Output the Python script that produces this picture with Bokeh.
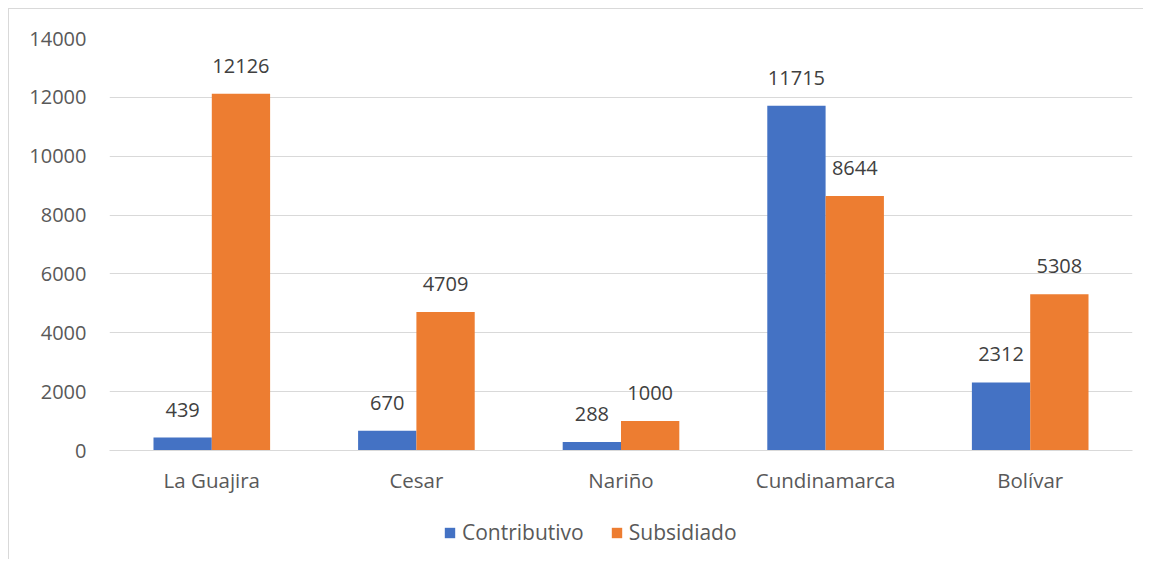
from bokeh.plotting import figure
from bokeh.layouts import column
from bokeh.models import ColumnDataSource, FactorRange, Legend, LegendItem, Range1d, SingleIntervalTicker
from bokeh.transform import dodge
from bokeh.embed import file_html
from bokeh.resources import INLINE
from bokeh.core.properties import value

categories = ["La Guajira", "Cesar", "Nariño", "Cundinamarca", "Bolívar"]
contributivo = [439, 670, 288, 11715, 2312]
subsidiado = [12126, 4709, 1000, 8644, 5308]
series_names = ["Contributivo", "Subsidiado"]
colors = ["#4472C4", "#ED7D31"]

FONT = "Open Sans"

src = ColumnDataSource(dict(
    cat=categories,
    c=contributivo,
    s=subsidiado,
    cl=[str(v) for v in contributivo],
    sl=[str(v) for v in subsidiado],
))

p = figure(
    x_range=FactorRange(*categories, range_padding=0),
    y_range=Range1d(0, 14000),
    width=1143, height=500,
    output_backend="svg", toolbar_location=None,
    min_border_left=109, min_border_right=11,
    min_border_top=38, min_border_bottom=50,
)
p.outline_line_color = None
p.background_fill_color = None
p.border_fill_color = None

bw = 0.285
r1 = p.vbar(x=dodge("cat", -bw / 2, range=p.x_range), top="c", width=bw, source=src,
            fill_color=colors[0], line_color=None)
r2 = p.vbar(x=dodge("cat", bw / 2, range=p.x_range), top="s", width=bw, source=src,
            fill_color=colors[1], line_color=None)

for col, lab, off in (("c", "cl", -bw / 2), ("s", "sl", bw / 2)):
    p.text(x=dodge("cat", off, range=p.x_range), y=col, text=lab, source=src,
           text_align="center", text_baseline="alphabetic", y_offset=-28,
           text_font=value(FONT), text_font_size="20px", text_color="#404040")

p.yaxis.ticker = SingleIntervalTicker(interval=2000)
p.yaxis.axis_line_color = None
p.yaxis.major_tick_line_color = None
p.yaxis.minor_tick_line_color = None
p.yaxis.major_label_standoff = 17
p.yaxis.major_label_text_font = FONT
p.yaxis.major_label_text_font_size = "20px"
p.yaxis.major_label_text_color = "#595959"

p.xaxis.axis_line_color = "#D9D9D9"
p.xaxis.axis_line_width = 1
p.xaxis.major_tick_line_color = None
p.xaxis.minor_tick_line_color = None
p.xaxis.major_label_standoff = 9
p.xaxis.major_label_text_font = FONT
p.xaxis.major_label_text_font_size = "20.5px"
p.xaxis.major_label_text_color = "#595959"

p.xgrid.grid_line_color = None
p.ygrid.grid_line_color = "#D9D9D9"
p.ygrid.grid_line_width = 1

# legend strip below the chart (its frame is aligned with the chart's frame)
lp = figure(
    x_range=Range1d(0, 1), y_range=Range1d(0, 1),
    width=1143, height=59,
    output_backend="svg", toolbar_location=None,
    min_border_left=0, min_border_right=0, min_border_top=0, min_border_bottom=0,
)
lp.axis.visible = False
lp.grid.visible = False
lp.outline_line_color = None
lp.background_fill_color = None
lp.border_fill_color = None
offscreen = ColumnDataSource(dict(x=[-100], top=[-100], bottom=[-101]))
l1 = lp.vbar(x="x", top="top", bottom="bottom", width=0.1, source=offscreen,
             fill_color=colors[0], line_color=None)
l2 = lp.vbar(x="x", top="top", bottom="bottom", width=0.1, source=offscreen,
             fill_color=colors[1], line_color=None)

legend = Legend(
    items=[LegendItem(label=series_names[0], renderers=[l1]),
           LegendItem(label=series_names[1], renderers=[l2])],
    orientation="horizontal", location=(334, 13),
    padding=0, margin=0, spacing=26, label_standoff=6,
    glyph_width=13, glyph_height=13,
    label_text_font=FONT, label_text_font_size="21px", label_text_color="#595959",
    border_line_color=None, background_fill_alpha=0,
)
lp.add_layout(legend, "center")

layout = column(p, lp, spacing=0)
layout.styles = {
    "background-image": "linear-gradient(#d9d9d9, #d9d9d9), linear-gradient(#d9d9d9, #d9d9d9)",
    "background-size": "1px 100%, 100% 1px",
    "background-position": "8px 8px, 8px 8px",
    "background-repeat": "no-repeat",
}

open("out.html", "w").write(file_html(layout, INLINE))
